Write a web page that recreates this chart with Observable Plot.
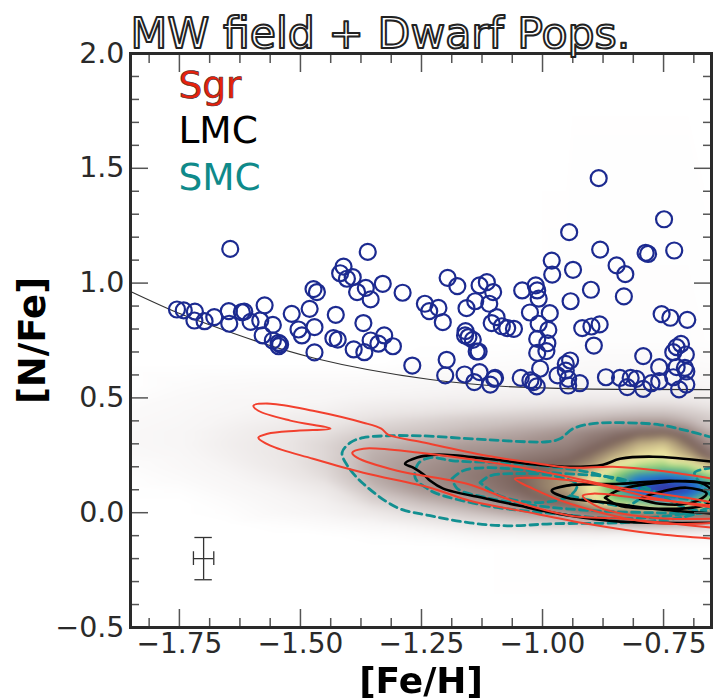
<!DOCTYPE html>
<html><head><meta charset="utf-8">
<script src="https://cdn.jsdelivr.net/npm/d3@7"></script>
<script src="https://cdn.jsdelivr.net/npm/@observablehq/plot@0.6"></script>
<style>html,body{margin:0;padding:0;background:#fff}svg{display:block;filter:blur(.55px)}</style>
</head><body><div id="chart"></div>
<script>
const titleText = "MW field + Dwarf Pops.";
const xMajor = [-1.75,-1.5,-1.25,-1,-0.75];
const xMinor = [-1.8125,-1.6875,-1.625,-1.5625,-1.4375,-1.375,-1.3125,-1.1875,-1.125,-1.0625,-0.9375,-0.875,-0.8125,-0.6875];
const yMajor = [-0.5,0,0.5,1,1.5,2];
const yMinor = [-0.4,-0.3,-0.2,-0.1,0.1,0.2,0.3,0.4,0.6,0.7,0.8,0.9,1.1,1.2,1.3,1.4,1.6,1.7,1.8,1.9];

const stars = [[-1.645,1.149],[-1.755,.885],[-1.741,.881],[-1.718,.876],[-1.719,.837],[-1.698,.834],[-1.678,.852],[-1.648,.878],[-1.647,.823],[-1.621,.874],[-1.616,.876],[-1.603,.831],[-1.583,.837],[-1.574,.903],[-1.557,.818],[-1.578,.772],[-1.557,.750],[-1.545,.740],[-1.542,.733],[-1.545,.725],[-1.518,.866],[-1.504,.798],[-1.497,.772],[-1.471,.808],[-1.481,.888],[-1.471,.698],[-1.473,.974],[-1.466,.961],[-1.427,.862],[-1.432,.760],[-1.423,.754],[-1.390,.711],[-1.368,.699],[-1.370,.826],[-1.355,.750],[-1.339,.736],[-1.327,.772],[-1.309,.725],[-1.269,.641],[-1.361,1.136],[-1.411,1.072],[-1.418,1.043],[-1.404,1.019],[-1.392,1.026],[-1.383,.961],[-1.365,.979],[-1.355,.929],[-1.330,.997],[-1.289,.958],[-1.243,.910],[-1.234,.878],
[-1.215,.892],[-1.206,.830],[-1.196,1.023],[-1.176,.987],[-1.198,.666],[-1.201,.598],[-1.161,.602],[-1.130,.612],[-1.141,.569],[-1.108,.558],[-1.100,.583],[-1.098,.587],[-1.157,.891],[-1.139,.921],[-1.110,.910],[-1.102,.961],[-1.130,.990],[-1.115,1.004],[-1.105,.826],[-1.095,.852],[-1.084,.812],[-1.073,.804],[-1.059,.801],[-1.159,.791],[-1.160,.772],[-1.153,.765],[-1.144,.753],[-1.136,.702],[-1.132,.702],[-1.042,.968],[-1.014,.990],[-1.011,.968],[-1.008,.932],[-1.026,.872],[-.985,.869],[-1.008,.823],[-.988,.796],[-1.011,.757],[-.990,.738],[-.992,.704],[-1.011,.696],[-1.005,.627],[-1.045,.587],[-1.025,.576],[-1.019,.569],[-1.012,.550],[-.969,.598],[-.952,.648],[-.943,.663],[-.952,.619],[-.947,.583],[-.947,.554],[-.923,.564],[-.981,1.098],[-.980,1.037],[-.937,1.058],[-.945,1.222],[-.884,1.457],[-.881,1.146],[-.900,.971],[-.942,.921],[-.918,.804],[-.899,.811],[-.882,.820],[-.894,.728],[-.832,.942],[-.847,1.077],[-.829,1.039],[-.787,1.132],[-.782,1.127],[-.749,1.278],[-.728,1.142],[-.754,.865],[-.736,.849],[-.701,.840],[-.792,.682],[-.869,.590],[-.840,.587],[-.818,.587],[-.806,.583],[-.825,.547],[-.792,.539],[-.775,.564],[-.759,.573],[-.759,.634],[-.730,.699],[-.723,.721],[-.714,.735],[-.704,.689],[-.723,.634],[-.706,.631],[-.703,.615],[-.730,.590],[-.703,.558],[-.718,.537]];

const boundary = [[-1.851,.964],[-1.748,.866],[-1.645,.786],[-1.471,.673],[-1.232,.580],[-1.047,.547],[-.84,.537],[-.651,.536]];

const sgr1 = [[-.648,.148],[-.758,.183],[-.855,.200],[-.943,.196],[-1.020,.218],[-1.115,.248],[-1.253,.309],[-1.319,.340],[-1.333,.366],[-1.370,.392],[-1.474,.444],[-1.562,.475],[-1.597,.466],[-1.587,.444],[-1.521,.401],[-1.438,.366],[-1.507,.357],[-1.568,.344],[-1.587,.327],[-1.562,.292],[-1.474,.235],[-1.370,.174],[-1.232,.109],[-1.150,.052],[-1.047,.009],[-.908,-.048],[-.772,-.091],[-.648,-.113]];
const sgr2 = [[-.648,.044],[-.702,.065],[-.840,.109],[-.978,.170],[-1.115,.222],[-1.253,.261],[-1.370,.279],[-1.393,.261],[-1.383,.240],[-1.300,.183],[-1.156,.126],[-1.061,.052],[-.943,-.013],[-.840,-.026],[-.648,-.065]];
const sgr3 = [[-.648,.022],[-.772,.065],[-.908,.131],[-1.032,.152],[-1.057,.148],[-1.020,.105],[-.943,.039],[-.772,-.044],[-.648,-.044]];
const sgr4 = [[-.648,.030],[-.805,.065],[-.896,.083],[-.917,.074],[-.882,.022],[-.772,-.022],[-.648,-.026]];
const lmc1 = [[-.648,.222],[-.772,.244],[-.840,.235],[-.875,.209],[-.943,.200],[-1.011,.209],[-1.115,.235],[-1.218,.253],[-1.259,.240],[-1.284,.213],[-1.267,.196],[-1.245,.165],[-1.232,.139],[-1.205,.105],[-1.115,.061],[-1.047,.030],[-.943,-.013],[-.840,-.039],[-.648,-.044]];
const lmc2 = [[-.648,.126],[-.737,.139],[-.840,.126],[-.950,.118],[-.981,.096],[-.950,.065],[-.867,.044],[-.772,.017],[-.648,-.004]];
const lmc3 = [[-.871,.065],[-.846,.096],[-.758,.131],[-.675,.131],[-.650,.090],[-.659,.039],[-.690,.022],[-.758,.017],[-.840,.030],[-.871,.065]];
const lmc4 = [[-.799,.061],[-.764,.087],[-.702,.109],[-.661,.083],[-.690,.044],[-.758,.039],[-.799,.061]];
const smc1 = [[-.648,.327],[-.702,.357],[-.758,.383],[-.840,.392],[-.896,.388],[-.937,.366],[-.964,.322],[-.991,.309],[-1.115,.318],[-1.253,.335],[-1.319,.335],[-1.370,.327],[-1.397,.305],[-1.414,.261],[-1.403,.205],[-1.370,.126],[-1.300,.022],[-1.232,-.013],[-1.150,-.044],[-1.073,-.057],[-.978,-.048],[-.840,-.044],[-.717,-.022],[-.648,.017]];
const smc2 = [[-.648,.039],[-.717,.065],[-.785,.096],[-.840,.139],[-.908,.178],[-1.047,.213],[-1.185,.226],[-1.232,.240],[-1.257,.213],[-1.263,.152],[-1.238,.105],[-1.218,.083],[-1.115,.030],[-.978,-.004],[-.840,-.026],[-.737,-.013],[-.675,.009],[-.648,.030]];
const smc3 = [[-1.187,.148],[-1.164,.183],[-1.115,.196],[-.978,.174],[-.840,.148],[-.772,.096],[-.717,.030],[-.669,0],[-.772,0],[-.896,.009],[-1.011,.030],[-1.115,.065],[-1.176,.105],[-1.187,.148]];
const smc4 = [[-1.129,.131],[-1.108,.161],[-1.047,.170],[-.978,.161],[-.929,.122],[-.943,.074],[-1.011,.044],[-1.088,.074],[-1.129,.131]];
const smc5 = [[-.943,.074],[-.896,.052],[-.826,.030],[-.799,.061]];
const smc6 = [[-.648,.196],[-.686,.174],[-.675,.131],[-.661,.096],[-.648,.065]];

const gridX = [-1.87,-1.75,-1.65,-1.55,-1.45,-1.35,-1.25,-1.15,-1.05,-.95,-.9,-.85,-.8,-.75,-.7,-.63];
const gridY = [2.05,.75,.65,.55,.5,.45,.4,.35,.3,.25,.2,.15,.1,.05,0,-.05,-.1,-.15,-.55];
const gridV = [
[0,0,0,0,0,0,0,0,0,0,0,0,0,0,0,0],
[0,0,0,0,0,0,0,0,0,.1,.2,.2,.2,.2,.2,.1],
[0,0,0,0,0,0,.2,.3,.4,.5,.6,.6,.6,.6,.5,.4],
[0,.4,.6,.7,.7,.8,.9,1,1,1,1,1,1,1,1,.9],
[.2,.6,.8,.8,.9,1.1,1.2,1.3,1.4,1.5,1.6,1.6,1.7,1.7,1.6,1.3],
[.5,.7,.9,1.1,1.2,1.6,1.8,2,2.2,2.4,2.5,2.6,2.7,2.7,2.5,2],
[.6,.8,1.1,1.4,1.7,2.2,2.5,2.8,3,3.2,3.4,3.6,3.7,3.7,3.3,2.5],
[.7,.9,1.3,1.7,2.1,2.7,3,3.3,3.6,4,4.3,4.6,4.9,5,4.4,3],
[.7,.9,1.4,1.8,2.4,3.2,3.5,3.8,4,4.3,4.7,5.2,6,6.3,5.2,3.5],
[.6,.8,1.3,1.8,2.4,3.4,3.8,4.1,4.4,4.7,5.2,6,6.7,7,6,4],
[.3,.7,1.1,1.7,2.4,3.5,4,4.4,4.8,5.2,5.8,7,7.6,7.8,7.6,6],
[.1,.5,.9,1.4,2.2,3.5,4.1,4.5,5,5.8,6.8,8,9,9.3,9,7.5],
[0,.2,.7,1.1,1.7,3.1,3.9,4.3,4.9,5.8,7,8.3,9.5,10,9.7,8],
[0,0,.4,.9,1.3,2.5,3.2,3.8,4.4,5.2,6.5,7.8,8.2,8.8,8.4,7.5],
[0,0,.2,.7,1.1,1.7,2.4,3,3.6,4,4.6,5,5.4,5.5,5.5,5.2],
[0,0,0,.2,.5,.9,1.4,2,2.4,2.8,3,3.2,3.3,3.3,3.2,3],
[0,0,0,0,0,.2,.4,.8,1,1,1.1,1,1,1,1,.9],
[0,0,0,0,0,0,0,0,.1,.1,.1,.1,.1,.1,.1,.1],
[0,0,0,0,0,0,0,0,0,0,0,0,0,0,0,0]];
const levels = [0,1,2,3,4,5,6,7,8,9,10];
const levelColors = ["#ffffff","#f7f5f5","#e9e4e3","#cdc3c1","#a5938f","#7a625b","#bfae82","#f6efa6","#74c46e","#1b78d8","#3a2a9e"];

const errX = -1.70, errY = -0.2, errDx = 0.021, errDy = 0.092, capX = 0.018, capY = 0.03;
const legend = [{t:"Sgr",x:-1.752,y:1.834,c:"#e8210c"},{t:"LMC",x:-1.752,y:1.636,c:"#000000"},{t:"SMC",x:-1.752,y:1.431,c:"#0f8a8a"}];

const cells = gridY.flatMap((y,i)=>gridX.map((x,j)=>({x,y,v:gridV[i][j]})));
const X = d=>d[0], Y = d=>d[1];
const contour = (a,o)=>Plot.line(a,{x:X,y:Y,curve:"catmull-rom",clip:true,...o});
const sgrS = {stroke:"#f2402e",strokeWidth:2};
const lmcS = {stroke:"#000",strokeWidth:2.6};
const smcS = {stroke:"#128f90",strokeWidth:2.8,strokeDasharray:"8 5"};
const ink = "#2a2a2a", tickC = "#555";

const chart = Plot.plot({
  width:713,height:699,marginLeft:130,marginTop:53,marginRight:2,marginBottom:72,
  style:{fontFamily:"'DejaVu Sans'",background:"#fff",color:ink,overflow:"visible"},
  x:{domain:[-1.851,-0.651]},
  y:{domain:[-0.5,2]},
  color:{type:"linear",domain:levels,range:levelColors,interpolate:"rgb"},
  marks:[
    Plot.raster(cells,{x:"x",y:"y",fill:"v",interpolate:"barycentric",blur:2.5,pixelSize:1}),
    Plot.line(boundary,{x:X,y:Y,curve:"natural",stroke:"#333",strokeWidth:1.1}),
    contour(smc1,smcS),contour(smc2,smcS),contour(smc3,smcS),contour(smc4,smcS),contour(smc5,smcS),contour(smc6,smcS),
    contour(lmc1,lmcS),contour(lmc2,lmcS),contour(lmc3,lmcS),contour(lmc4,lmcS),
    contour(sgr1,sgrS),contour(sgr2,sgrS),contour(sgr3,sgrS),contour(sgr4,sgrS),
    Plot.dot(stars,{x:X,y:Y,r:8,stroke:"#1c2a90",strokeWidth:2.2,fill:"none"}),
    Plot.ruleY([errY],{x1:errX-errDx,x2:errX+errDx,stroke:"#333",strokeWidth:1.3}),
    Plot.ruleX([errX],{y1:errY-errDy,y2:errY+errDy,stroke:"#333",strokeWidth:1.3}),
    Plot.ruleX([errX-errDx,errX+errDx],{y1:errY-capY,y2:errY+capY,stroke:"#333",strokeWidth:1.3}),
    Plot.ruleY([errY-errDy,errY+errDy],{x1:errX-capX,x2:errX+capX,stroke:"#333",strokeWidth:1.3}),
    Plot.axisX(xMajor,{anchor:"bottom",tickSize:-18,tickPadding:24,fontSize:28,tickFormat:".2f",label:null,stroke:tickC,strokeWidth:1.5,fill:ink}),
    Plot.axisX(xMinor,{anchor:"bottom",tickSize:-9,text:null,label:null,stroke:tickC,strokeWidth:1.5}),
    Plot.axisX(xMajor,{anchor:"top",tickSize:-18,text:null,label:null,stroke:tickC,strokeWidth:1.5}),
    Plot.axisX(xMinor,{anchor:"top",tickSize:-9,text:null,label:null,stroke:tickC,strokeWidth:1.5}),
    Plot.axisY(yMajor,{anchor:"left",tickSize:-18,tickPadding:24,fontSize:28.5,tickFormat:".1f",label:null,stroke:tickC,strokeWidth:1.5,fill:ink}),
    Plot.axisY(yMinor,{anchor:"left",tickSize:-9,text:null,label:null,stroke:tickC,strokeWidth:1.5}),
    Plot.axisY(yMajor,{anchor:"right",tickSize:-18,text:null,label:null,stroke:tickC,strokeWidth:1.5}),
    Plot.axisY(yMinor,{anchor:"right",tickSize:-9,text:null,label:null,stroke:tickC,strokeWidth:1.5}),
    Plot.frame({stroke:ink,strokeWidth:3}),
    Plot.text(legend,{x:"x",y:"y",text:"t",fill:"c",fontSize:37.5,textAnchor:"start",lineAnchor:"bottom",dy:6}),
    Plot.text(legend.slice(0,1),{x:"x",y:"y",text:"t",fill:"c",stroke:"#444",strokeWidth:.6,paintOrder:"normal",fontSize:37.5,textAnchor:"start",lineAnchor:"bottom",dy:6}),
    Plot.text([titleText],{frameAnchor:"top-left",dx:0,dy:-36,fontSize:42.6,fill:"#fff",stroke:"#222",strokeWidth:2,paintOrder:"normal",lineAnchor:"top",textAnchor:"start"}),
    Plot.text(["[Fe/H]"],{frameAnchor:"bottom",dy:65,dx:0,fontSize:36,fontWeight:"bold",fill:"#000",lineAnchor:"bottom"}),
    Plot.text(["[N/Fe]"],{frameAnchor:"left",dx:-97,fontSize:37,fontWeight:"bold",fill:"#000",textAnchor:"middle",rotate:-90})
  ]
});
document.getElementById("chart").append(chart);
</script></body></html>
